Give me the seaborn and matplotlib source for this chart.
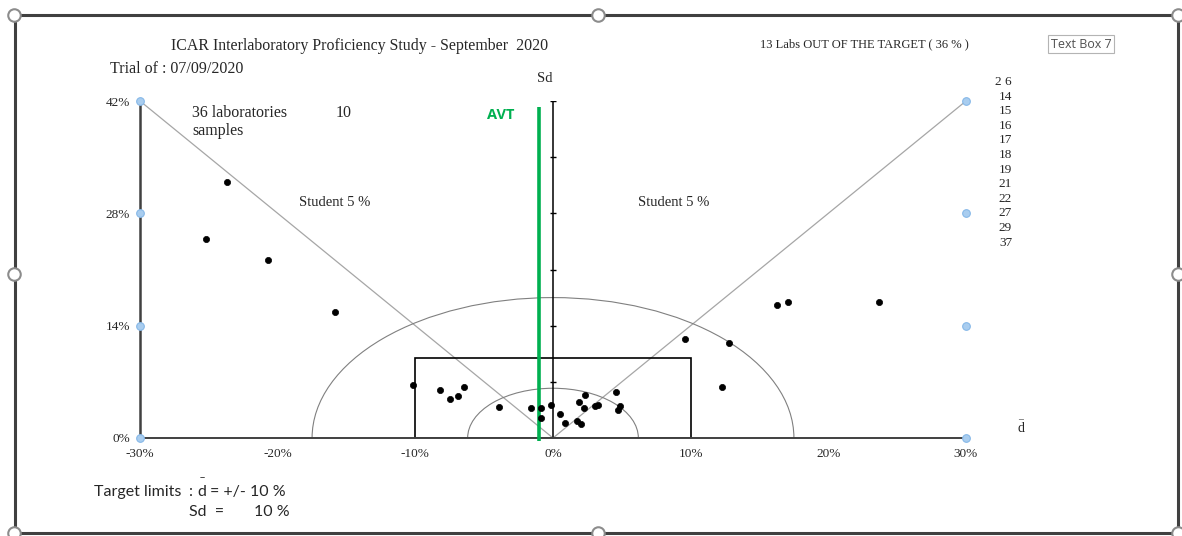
import numpy as np
import pandas as pd
import matplotlib.pyplot as plt
import matplotlib.patches as mpatches
from matplotlib.lines import Line2D
import seaborn as sns

# ===== DATOS =====
d_mean = [-23.7, -25.2, -20.7, -15.8, 16.3, 17.1, 23.7, 9.6, 12.8, 12.3,
          -10.2, -8.2, -7.5, -6.9, -6.5, -3.9, -1.6, -0.85, -0.85, -0.15,
          0.5, 0.9, 1.75, 2.0, 1.9, 2.35, 2.25, 3.05, 3.3, 4.6, 4.9, 4.7]
sd = [31.9, 24.8, 22.2, 15.7, 16.6, 16.9, 16.9, 12.4, 11.9, 6.4,
      6.6, 6.0, 4.8, 5.2, 6.4, 3.9, 3.7, 3.8, 2.5, 4.1,
      3.0, 1.9, 2.1, 1.75, 4.5, 5.4, 3.8, 4.0, 4.1, 5.7, 4.0, 3.5]

x_ticks = [-30, -20, -10, 0, 10, 20, 30]
x_minor = [-25, -15, -5, 5, 15, 25]
x_tick_labels = ['-30%', '-20%', '-10%', '0%', '10%', '20%', '30%']
y_ticks = [0, 14, 28, 42]
y_minor = [7, 21, 35]
y_tick_labels = ['0%', '14%', '28%', '42%']
sd_axis_ticks = [7, 14, 21, 28, 35, 42]

out_labs = ['2 6', '14', '15', '16', '17', '18', '19', '21', '22', '27', '29', '37']

target_d = 10
target_sd = 10
avt = -1.0
inner_radius = 6.2
outer_radius = 17.5
student_x = [-30, 0, 30]
student_sd = [42, 0, 42]

W, H = 1182, 536

def px(x, y):
    return x / W, 1 - y / H

# ===== FIGURA =====
sns.set_style("white")
plt.rcParams['font.family'] = ['Liberation Serif', 'DejaVu Serif']

fig = plt.figure(figsize=(W / 100, H / 100), dpi=100)
ax = fig.add_axes([140 / W, 98 / H, 826 / W, 337 / H])
ax.set_xlim(-30, 30)
ax.set_ylim(0, 42)
ax.patch.set_alpha(0)

for s in ['top', 'right']:
    ax.spines[s].set_visible(False)
ax.spines['left'].set_color('#404040')
ax.spines['left'].set_linewidth(1.8)
ax.spines['bottom'].set_color('#404040')
ax.spines['bottom'].set_linewidth(1.4)

ax.set_xticks(x_ticks)
ax.set_xticklabels(x_tick_labels, fontsize=9.5)
ax.set_xticks(x_minor, minor=True)
ax.set_yticks(y_ticks)
ax.set_yticklabels(y_tick_labels, fontsize=9.5)
ax.set_yticks(y_minor, minor=True)
ax.tick_params(axis='x', which='both', direction='out', length=3.5, width=1, color='#404040', pad=3.5)
ax.tick_params(axis='y', which='both', direction='inout', length=6, width=1, color='#404040', pad=4)

# Limites Student
ax.plot(student_x, student_sd, color='#a6a6a6', lw=0.9, zorder=1)

# Semicirculos
for r in [inner_radius, outer_radius]:
    ax.add_patch(mpatches.Arc((0, 0), 2 * r, 2 * r, theta1=0, theta2=180,
                              color='#808080', lw=0.8, zorder=1))

# Rectangulo objetivo
ax.add_patch(mpatches.Rectangle((-target_d, 0), 2 * target_d, target_sd,
                                fill=False, ec='black', lw=1.2, zorder=2))

# Eje Sd
ax.plot([0, 0], [0, 42], color='black', lw=1.1, zorder=2)
ax.plot([0] * len(sd_axis_ticks), sd_axis_ticks, ls='none', marker='_',
        markersize=5, color='black', mew=1.0, zorder=2)

# AVT
ax.vlines(avt, -0.4, 41.2, color='#00b050', lw=2.6, zorder=3, clip_on=False)

# Puntos
df = pd.DataFrame({'d': d_mean, 'sd': sd})
sns.scatterplot(data=df, x='d', y='sd', color='black', s=20, edgecolor='black',
                linewidth=0.5, ax=ax, legend=False, zorder=4, clip_on=False)
ax.set_xlabel('')
ax.set_ylabel('')

# Marcadores azules
for xv in [-30, 30]:
    ax.plot([xv] * len(y_ticks), y_ticks, ls='none', marker='o', markersize=5.5,
            mfc='#a9cdef', mec='#86b8e8', mew=0.8, clip_on=False, zorder=5)

# ===== TEXTOS =====
fig.text(*px(360, 46), 'ICAR Interlaboratory Proficiency Study - September  2020',
         fontsize=11.4, ha='center', va='center')
fig.text(*px(110, 69), 'Trial of : 07/09/2020', fontsize=11.5, ha='left', va='center')
fig.text(*px(545, 79), 'Sd', fontsize=10.5, ha='center', va='center')
fig.text(*px(192, 113), '36 laboratories', fontsize=11.5, ha='left', va='center')
fig.text(*px(336, 113), '10', fontsize=11.5, ha='left', va='center')
fig.text(*px(192, 131), 'samples', fontsize=11.5, ha='left', va='center')
fig.text(*px(501, 115), 'AVT', fontsize=10.5, ha='center', va='center', color='#00b050',
         fontweight='bold', family=['Open Sans', 'DejaVu Sans'])
fig.text(*px(335, 202), 'Student 5 %', fontsize=10.5, ha='center', va='center')
fig.text(*px(674, 202), 'Student 5 %', fontsize=10.5, ha='center', va='center')
fig.text(*px(864, 44), '13 Labs OUT OF THE TARGET ( 36 % )', fontsize=9,
         ha='center', va='center')
fig.text(*px(1081, 44), 'Text Box 7', fontsize=9, ha='center', va='center', color='#505050',
         family=['Open Sans', 'DejaVu Sans'],
         bbox=dict(boxstyle='square,pad=0.2', fc='white', ec='#b4b4b4', lw=0.8))

for i, lab in enumerate(out_labs):
    fig.text(*px(1012, 82 + i * 14.6), lab, fontsize=9.5, ha='right', va='center')

# d barra a la derecha
fig.text(*px(1021, 429), 'd', fontsize=10, ha='center', va='center')
fig.text(*px(1021, 416), '_', fontsize=7, ha='center', va='center')

# Limites objetivo
sans = ['Lato', 'DejaVu Sans']
fig.text(*px(94, 492), 'Target limits', fontsize=11.5, ha='left', va='center', family=sans)
fig.text(*px(189, 492), ':', fontsize=11.5, ha='left', va='center', family=sans)
fig.text(*px(202, 492), 'd', fontsize=11.5, ha='center', va='center', family=sans)
fig.text(*px(202, 473), '_', fontsize=8, ha='center', va='center', family=sans)
fig.text(*px(210, 492), '= +/- 10 %', fontsize=11.5, ha='left', va='center', family=sans)
fig.text(*px(189, 512), 'Sd  =', fontsize=11.5, ha='left', va='center', family=sans)
fig.text(*px(254, 512), '10 %', fontsize=11.5, ha='left', va='center', family=sans)

# ===== MARCO =====
fig.patches.append(mpatches.Rectangle((15 / W, 3 / H), 1163 / W, 518 / H,
                                      transform=fig.transFigure, fill=False,
                                      ec='#404040', lw=2.2, zorder=10))
for hx in [14, 598, 1178]:
    for hy in [15, 274, 533]:
        if hx == 598 and hy == 274:
            continue
        fig.add_artist(Line2D([hx / W], [1 - hy / H], marker='o', markersize=9,
                              mfc='white', mec='#8c8c8c', mew=1.5,
                              transform=fig.transFigure, zorder=11))

fig.savefig('out.png', dpi=100)
